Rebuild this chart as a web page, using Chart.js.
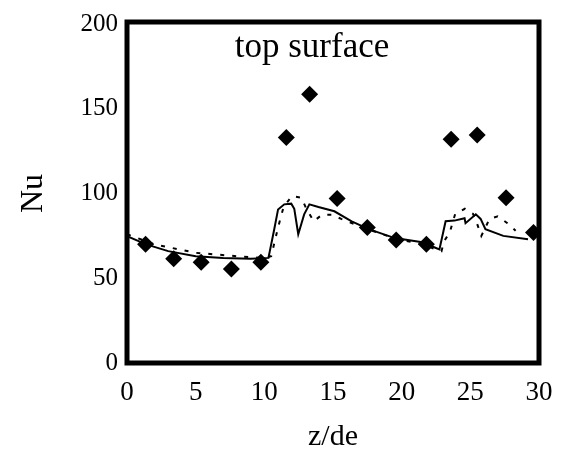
<!DOCTYPE html>
<html>
<head>
<meta charset="utf-8">
<script src="https://cdn.jsdelivr.net/npm/chart.js@4"></script>
<style>
  html, body { margin: 0; padding: 0; background: #fff; }
  #wrap { width: 569px; height: 457px; }
</style>
</head>
<body>
<div id="wrap"><canvas id="myChart" width="569" height="457"></canvas></div>
<script>
// measured points (diamonds)
const zExp = [1.35, 3.4, 5.4, 7.6, 9.75, 11.6, 13.3, 15.3, 17.5, 19.6, 21.8, 23.6, 25.5, 27.6, 29.6];
const nuExp = [70, 61.5, 59.5, 55.5, 59.5, 133, 158.5, 97, 80, 72.5, 70, 132, 134.5, 97.5, 77];

// computed, solid line
const zSolid = [0, 1.4, 3, 5, 7, 9, 10.3, 10.7, 11.0, 11.45, 11.96, 12.18, 12.47, 12.9, 13.28, 13.94, 15.1, 16.36, 17.6, 19.5, 21.5, 22.45, 22.75, 23.2, 23.84, 24.58, 24.65, 25.4, 25.75, 26.1, 27.4, 29.2];
const nuSolid = [74.8, 70, 66, 63, 62, 61.5, 62, 78, 90.6, 93.6, 94, 91, 76, 87.7, 93.6, 92, 89.5, 83.6, 79, 73.7, 71.3, 68, 67, 83.6, 84, 85.4, 82.5, 87.7, 85, 79, 75, 73];

// computed, dashed line
const zDash = [0, 2, 5, 8, 10, 10.5, 11.0, 11.4, 12.0, 12.7, 13.06, 13.6, 14.2, 14.9, 15.6, 17.5, 19.5, 21.5, 22.5, 22.9, 23.1, 23.5, 23.9, 24.6, 25.2, 25.5, 25.8, 26.4, 27.0, 27.7, 28.3];
const nuDash = [76, 70, 65, 63, 62, 63, 80, 92, 98.5, 97.5, 91, 83.6, 87.5, 87.5, 85, 79, 73.5, 70, 67, 66, 72, 77, 88, 91, 88, 82, 75, 85, 86.5, 82.5, 78];

const xTicks = [0, 5, 10, 15, 20, 25, 30];
const yTicks = [0, 50, 100, 150, 200];

const toPts = (xs, ys) => xs.map((x, i) => ({ x: x, y: ys[i] }));
const serif = "'Liberation Serif', 'DejaVu Serif', serif";

const framePlugin = {
  id: "frame",
  afterDraw(chart) {
    const { ctx, chartArea } = chart;
    ctx.save();
    ctx.strokeStyle = "#000";
    ctx.lineWidth = 5;
    ctx.strokeRect(chartArea.left, chartArea.top - 2, chartArea.right - chartArea.left, chartArea.bottom - chartArea.top + 2);
    ctx.fillStyle = "#000";
    ctx.font = "35px " + serif;
    ctx.textAlign = "center";
    ctx.textBaseline = "middle";
    ctx.fillText("top surface", chartArea.left + 185, chartArea.top + 24);
    ctx.restore();
  },
};

new Chart(document.getElementById("myChart"), {
  type: "scatter",
  data: {
    datasets: [
      {
        label: "solid",
        data: toPts(zSolid, nuSolid),
        showLine: true,
        borderColor: "#000",
        borderWidth: 2,
        pointRadius: 0,
        tension: 0,
      },
      {
        label: "dashed",
        data: toPts(zDash, nuDash),
        showLine: true,
        borderColor: "#000",
        borderWidth: 2,
        borderDash: [4, 8],
        pointRadius: 0,
        tension: 0,
      },
      {
        label: "exp",
        data: toPts(zExp, nuExp),
        showLine: false,
        pointStyle: "rectRot",
        pointRadius: 8.5,
        backgroundColor: "#000",
        borderColor: "#000",
        borderWidth: 0,
      },
    ],
  },
  options: {
    responsive: false,
    animation: false,
    layout: { padding: { top: 21, right: 30, left: 0, bottom: 0 } },
    plugins: { legend: { display: false }, tooltip: { enabled: false } },
    scales: {
      x: {
        type: "linear",
        min: 0,
        max: 30,
        afterBuildTicks: (s) => { s.ticks = xTicks.map((v) => ({ value: v })); },
        afterFit: (s) => { s.height = 94; },
        grid: { display: false, drawTicks: false },
        border: { display: false },
        ticks: { color: "#000", padding: 14, font: { family: serif, size: 27 }, maxRotation: 0 },
        title: { display: true, text: "z/de", color: "#000", font: { family: serif, size: 30 }, padding: { top: 0, bottom: 2 } },
      },
      y: {
        min: 0,
        max: 200,
        afterBuildTicks: (s) => { s.ticks = yTicks.map((v) => ({ value: v })); },
        afterFit: (s) => { s.width = 127; },
        grid: { display: false, drawTicks: false },
        border: { display: false },
        ticks: { color: "#000", padding: 9, font: { family: serif, size: 25 } },
        title: { display: true, text: "Nu", color: "#000", font: { family: serif, size: 32 }, padding: { top: 14, bottom: 0 } },
      },
    },
  },
  plugins: [framePlugin],
});
</script>
</body>
</html>
